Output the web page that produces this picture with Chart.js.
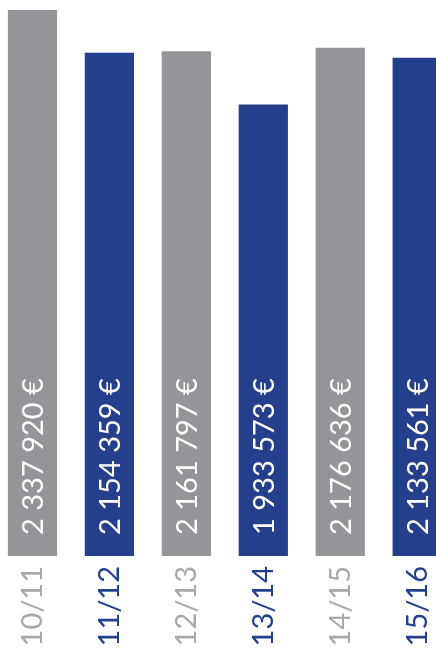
<!DOCTYPE html>
<html>
<head>
<meta charset="utf-8">
<script src="https://cdn.jsdelivr.net/npm/chart.js@4"></script>
<style>
  html, body { margin: 0; padding: 0; background: #fff; overflow: hidden; }
  #chart { position: absolute; left: -6px; top: 0; }
</style>
</head>
<body>
<canvas id="chart" width="468" height="648"></canvas>
<script>
const seasons = ["10/11", "11/12", "12/13", "13/14", "14/15", "15/16"];
const amounts = [2337920, 2154359, 2161797, 1933573, 2176636, 2133561];
const barColors = ["#939598", "#243f8c", "#939598", "#243f8c", "#939598", "#243f8c"];
const tickColors = ["#a7a9ac", "#243f8c", "#a7a9ac", "#243f8c", "#a7a9ac", "#243f8c"];

// put spaces between thousands, then the euro sign
function formatEuro(v) {
  return String(v).replace(/\B(?=(\d{3})+(?!\d))/g, " ") + " €";
}

// value labels written upward inside each bar
const insideLabels = {
  id: "insideLabels",
  afterDatasetsDraw(chart) {
    const ctx = chart.ctx;
    const meta = chart.getDatasetMeta(0);
    ctx.save();
    ctx.fillStyle = "#ffffff";
    ctx.font = "400 29px Lato";
    ctx.textAlign = "left";
    ctx.textBaseline = "middle";
    meta.data.forEach((bar, i) => {
      ctx.save();
      ctx.translate(bar.x + 1, bar.base - 21);
      ctx.rotate(-Math.PI / 2);
      ctx.fillText(formatEuro(amounts[i]), 0, 0);
      ctx.restore();
    });
    ctx.restore();
  },
};

const canvas = document.getElementById("chart").getContext("2d");
const myChart = new Chart(canvas, {
  type: "bar",
  data: {
    labels: seasons,
    datasets: [
      {
        data: amounts,
        backgroundColor: barColors,
        borderWidth: 0,
        barPercentage: 0.64,
        categoryPercentage: 1,
      },
    ],
  },
  options: {
    responsive: false,
    animation: false,
    layout: { padding: { top: 10, left: 0, right: 0, bottom: 0 } },
    plugins: {
      legend: { display: false },
      tooltip: { enabled: false },
    },
    scales: {
      x: {
        grid: { display: false, drawTicks: false },
        border: { display: false },
        afterFit: (scale) => { scale.height = 92; },
        ticks: {
          minRotation: 90,
          maxRotation: 90,
          padding: 10,
          color: tickColors,
          font: { family: "Lato", size: 29, weight: 400 },
        },
      },
      y: {
        display: false,
        min: 0,
        max: 2337920,
      },
    },
  },
  plugins: [insideLabels],
});
</script>
</body>
</html>
